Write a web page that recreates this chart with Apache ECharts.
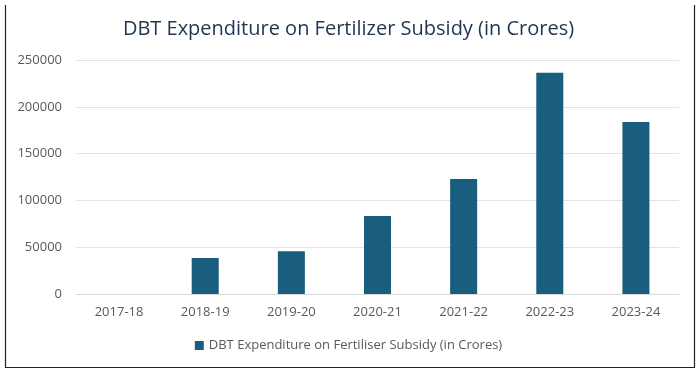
<!DOCTYPE html>
<html><head><meta charset="utf-8">
<script src="https://cdn.jsdelivr.net/npm/echarts@6/dist/echarts.min.js"></script>
<style>html,body{margin:0;padding:0;background:#fff}#c{width:697px;height:373px}</style>
</head><body><div id="c"></div>
<script>
const categories = ['2017-18','2018-19','2019-20','2020-21','2021-22','2022-23','2023-24'];
const values = [0, 38500, 45600, 83300, 122900, 236400, 183800];
const seriesName = 'DBT Expenditure on Fertiliser Subsidy (in Crores)';
const titleText = 'DBT Expenditure on Fertilizer Subsidy (in Crores)';
const chart = echarts.init(document.getElementById('c'));
chart.setOption({
  animation: false,
  title: { text: titleText, left: 'center', top: 14,
    textStyle: { fontFamily: 'Open Sans', fontSize: 20, fontWeight: 'normal', color: '#1f3550' } },
  grid: { left: 76, right: 18, top: 60, bottom: 79 },
  legend: { bottom: 16, left: 'center', itemWidth: 9, itemHeight: 9, itemGap: 5,
    icon: 'rect', textStyle: { fontFamily: 'Open Sans', fontSize: 13, color: '#595959' } },
  xAxis: { type: 'category', data: categories,
    axisTick: { show: false }, axisLine: { lineStyle: { color: '#d9d9d9' } },
    axisLabel: { fontFamily: 'Open Sans', fontSize: 13, color: '#595959', margin: 12 } },
  yAxis: { type: 'value', min: 0, max: 250000, interval: 50000,
    axisLine: { show: false }, axisTick: { show: false },
    splitLine: { lineStyle: { color: '#e3e3e3' } },
    axisLabel: { fontFamily: 'Open Sans', fontSize: 13, color: '#595959', margin: 14,
      formatter: function (v) { return String(v); } } },
  series: [{ name: seriesName, type: 'bar', data: values, barWidth: 27,
    itemStyle: { color: '#195d7f' } }],
  graphic: [{ type: 'polyline', shape: { points: [[5.5,5],[5.5,367.5],[694.5,367.5],[694.5,5]] },
    style: { stroke: '#222', lineWidth: 1.2, fill: null } }]
});
</script></body></html>
